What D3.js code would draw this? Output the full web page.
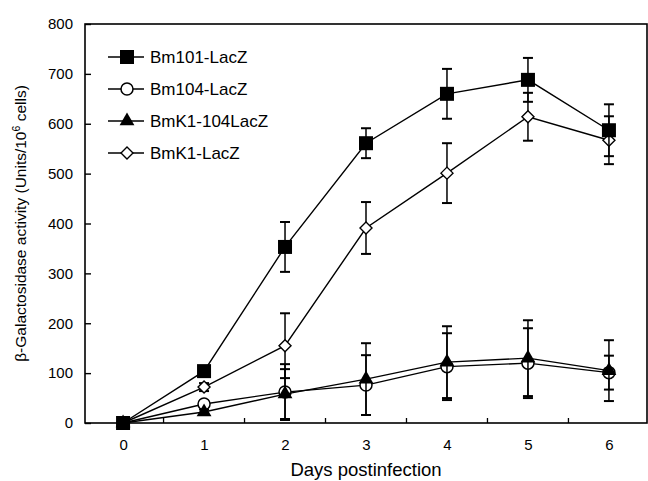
<!DOCTYPE html>
<html>
<head>
<meta charset="utf-8">
<script src="https://cdn.jsdelivr.net/npm/d3@7"></script>
<style>
  body { margin: 0; background: #fff; }
  svg text { font-family: "Liberation Sans", Arial, sans-serif; fill: #000; }
</style>
</head>
<body>
<div class="chart"></div>
<script>
// data
const days = [0, 1, 2, 3, 4, 5, 6];
const yTicks = [0, 100, 200, 300, 400, 500, 600, 700, 800];
const seriesNames = ['Bm101-LacZ', 'Bm104-LacZ', 'BmK1-104LacZ', 'BmK1-LacZ'];
const seriesSymbols = ['square', 'circle', 'triangle', 'diamond'];

const bm101 = [0, 104, 353, 561, 660, 688, 587];
const bm101Err = [0, 6, 50, 30, 50, 44, 52];
const bm104 = [0, 38, 62, 76, 113, 120, 101];
const bm104Err = [0, 6, 56, 60, 67, 70, 34];
const bmk1104 = [0, 22, 58, 88, 122, 130, 105];
const bmk1104Err = [0, 5, 50, 72, 72, 76, 61];
const bmk1 = [0, 72, 155, 391, 501, 614, 567];
const bmk1Err = [0, 8, 65, 52, 60, 48, 48];

const allValues = [bm101, bm104, bmk1104, bmk1];
const allErrs = [bm101Err, bm104Err, bmk1104Err, bmk1Err];

const svg_width = 648, svg_height = 481;
const margin = {top: 24, right: 1, bottom: 58, left: 85};
const chart_width = svg_width - margin.left - margin.right;
const chart_height = svg_height - margin.top - margin.bottom;

const svg = d3.select('.chart').append('svg')
  .attr('width', svg_width).attr('height', svg_height);
const g = svg.append('g').attr('transform', `translate(${margin.left},${margin.top})`);

const xScale = d3.scaleLinear([-0.47, 6.47], [0, chart_width]);
const yScale = d3.scaleLinear([0, 800], [chart_height, 0]);

// frame
g.append('rect').attr('x', 0).attr('y', 0)
  .attr('width', chart_width).attr('height', chart_height)
  .attr('fill', 'none').attr('stroke', '#000').attr('stroke-width', 1.6);

// x axis: labels at days, small inward ticks at half days
const xAxis = d3.axisBottom(xScale).tickValues(days).tickSize(0).tickPadding(16)
  .tickFormat(d3.format('d'));
const xAxisDraw = g.append('g').attr('transform', `translate(0,${chart_height})`).call(xAxis);
xAxisDraw.select('.domain').remove();
xAxisDraw.selectAll('text').style('font-size', '15px');
g.selectAll('.xminor').data(days.slice(0, 6).map(d => d + 0.5)).join('line')
  .attr('class', 'xminor')
  .attr('x1', d => xScale(d)).attr('x2', d => xScale(d))
  .attr('y1', chart_height).attr('y2', chart_height - 5)
  .attr('stroke', '#000').attr('stroke-width', 1.3);

// y axis
const yAxis = d3.axisLeft(yScale).tickValues(yTicks).tickSizeInner(-6).tickSizeOuter(0).tickPadding(12);
const yAxisDraw = g.append('g').call(yAxis);
yAxisDraw.select('.domain').remove();
yAxisDraw.selectAll('line').attr('stroke-width', 1.4);
yAxisDraw.selectAll('text').style('font-size', '15px');

// axis titles
svg.append('text')
  .attr('x', margin.left + xScale(3)).attr('y', 476)
  .attr('text-anchor', 'middle').style('font-size', '18.5px')
  .text('Days postinfection');

const yTitle = svg.append('text')
  .attr('transform', `translate(26,${margin.top + chart_height / 2}) rotate(-90)`)
  .attr('text-anchor', 'middle').style('font-size', '15.5px');
yTitle.append('tspan').text('β-Galactosidase activity (Units/10');
yTitle.append('tspan').text('6').attr('dy', -6).style('font-size', '10.5px');
yTitle.append('tspan').text(' cells)').attr('dy', 6);

// marker drawing
function drawMarker(sel, symbol) {
  if (symbol === 'square') {
    sel.append('rect').attr('x', -7).attr('y', -7).attr('width', 14).attr('height', 14)
      .attr('fill', '#000');
  } else if (symbol === 'circle') {
    sel.append('circle').attr('r', 6).attr('fill', '#fff')
      .attr('stroke', '#000').attr('stroke-width', 1.5);
  } else if (symbol === 'triangle') {
    sel.append('path').attr('d', d3.symbol(d3.symbolTriangle, 95)())
      .attr('fill', '#000');
  } else {
    sel.append('path').attr('d', 'M0,-6L6,0L0,6L-6,0Z').attr('fill', '#fff')
      .attr('stroke', '#000').attr('stroke-width', 1.4);
  }
}

const line = d3.line().x((d, i) => xScale(days[i])).y(d => yScale(d));

const drawOrder = [3, 1, 2, 0];
drawOrder.forEach(s => {
  const vals = allValues[s], errs = allErrs[s];
  const sg = g.append('g');
  // error bars
  days.forEach((day, i) => {
    if (errs[i] <= 0) return;
    const x = xScale(day);
    const y1 = yScale(vals[i] + errs[i]), y2 = yScale(Math.max(0, vals[i] - errs[i]));
    sg.append('line').attr('x1', x).attr('x2', x).attr('y1', y1).attr('y2', y2)
      .attr('stroke', '#000').attr('stroke-width', 1.5);
    [y1, y2].forEach(y => sg.append('line').attr('x1', x - 5).attr('x2', x + 5)
      .attr('y1', y).attr('y2', y).attr('stroke', '#000').attr('stroke-width', 2));
  });
  sg.append('path').datum(vals).attr('d', line)
    .attr('fill', 'none').attr('stroke', '#000').attr('stroke-width', 1.4);
  days.forEach((day, i) => {
    const m = sg.append('g').attr('transform', `translate(${xScale(day)},${yScale(vals[i])})`);
    drawMarker(m, seriesSymbols[s]);
  });
});

// legend
const legend = svg.append('g').attr('transform', 'translate(108,57)');
seriesNames.forEach((name, i) => {
  const row = legend.append('g').attr('transform', `translate(0,${i * 32})`);
  row.append('line').attr('x1', 0).attr('x2', 36).attr('y1', 0).attr('y2', 0)
    .attr('stroke', '#000').attr('stroke-width', 1.4);
  drawMarker(row.append('g').attr('transform', 'translate(19,0)'), seriesSymbols[i]);
  row.append('text').attr('x', 42).attr('y', 6).style('font-size', '17px').text(name);
});
</script>
</body>
</html>
